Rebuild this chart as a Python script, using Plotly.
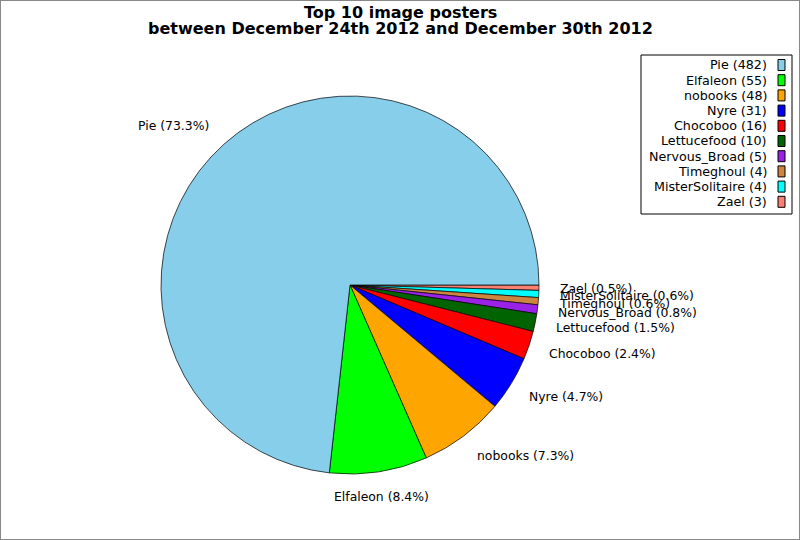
import math
import plotly.graph_objects as go

names = ["Pie", "Elfaleon", "nobooks", "Nyre", "Chocoboo", "Lettucefood",
         "Nervous_Broad", "Timeghoul", "MisterSolitaire", "Zael"]
counts = [482, 55, 48, 31, 16, 10, 5, 4, 4, 3]
colors = ["#87CEEB", "#00FF00", "#FFA500", "#0000FF", "#FF0000", "#006400",
          "#9A22E6", "#CD853F", "#00FFFF", "#FA8072"]
title_lines = ["Top 10 image posters",
               "between December 24th 2012 and December 30th 2012"]

W, H = 800, 540
CX, CY, R = 350, 285, 189


def px(x):
    return x / W


def py(y):
    return 1 - y / H


# slices run counter-clockwise from 3 o'clock; plotly's clockwise mode with
# reversed order gives the same layout
fig = go.Figure(go.Pie(
    labels=names[::-1], values=counts[::-1], sort=False, direction="clockwise",
    rotation=90, textinfo="none", hoverinfo="label+value+percent",
    marker=dict(colors=colors[::-1], line=dict(color="black", width=0.7)),
    domain=dict(x=[px(CX - R), px(CX + R)], y=[py(CY + R), py(CY - R)]),
    showlegend=False,
))

annotations = []
shapes = []

# slice labels
total = sum(counts)
cum = 0.0
for n, v in zip(names, counts):
    frac = v / total
    mid = (cum + frac / 2) * 2 * math.pi
    cum += frac
    c, s = math.cos(mid), math.sin(mid)
    x = CX + 1.1 * R * c
    y = CY - 1.1 * R * s - 6 * s
    if c > 0.3:
        anchor = "left"
    elif c < -0.3:
        anchor = "right"
    else:
        anchor = "center"
    annotations.append(dict(
        text=f"{n} ({frac * 100:.1f}%)", x=px(x), y=py(y), xref="paper", yref="paper",
        xanchor=anchor, yanchor="middle", showarrow=False,
        font=dict(family="DejaVu Sans", size=12.4, color="black")))

# title
for i, t in enumerate(title_lines):
    annotations.append(dict(
        text=f"<b>{t}</b>", x=0.5, y=py(12 + 17 * i), xref="paper", yref="paper",
        xanchor="center", yanchor="middle", showarrow=False,
        font=dict(family="DejaVu Sans", size=16, color="black")))

# custom legend
LX0, LX1, LY0, LY1 = 641, 792, 55, 214
shapes.append(dict(type="rect", xref="paper", yref="paper",
                   x0=px(LX0), x1=px(LX1), y0=py(LY1), y1=py(LY0),
                   line=dict(color="black", width=1), fillcolor="white", layer="below"))
for i, (n, v, col) in enumerate(zip(names, counts, colors)):
    yc = 65 + 15.2 * i
    annotations.append(dict(
        text=f"{n} ({v})", x=px(769), y=py(yc), xref="paper", yref="paper",
        xanchor="right", yanchor="middle", showarrow=False,
        font=dict(family="DejaVu Sans", size=12.7, color="black")))
    shapes.append(dict(type="rect", xref="paper", yref="paper",
                       x0=px(778), x1=px(785), y0=py(yc + 5.5), y1=py(yc - 5.5),
                       line=dict(color="black", width=1), fillcolor=col))

# outer border
shapes.append(dict(type="rect", xref="paper", yref="paper", x0=0, x1=1, y0=0, y1=1,
                   line=dict(color="#888888", width=2)))

fig.update_layout(
    width=W, height=H, margin=dict(l=0, r=0, t=0, b=0),
    paper_bgcolor="white", plot_bgcolor="white",
    annotations=annotations, shapes=shapes, showlegend=False,
)

fig.write_html("out.html", config={"displayModeBar": False},
               post_script="document.body.style.margin='0';")
